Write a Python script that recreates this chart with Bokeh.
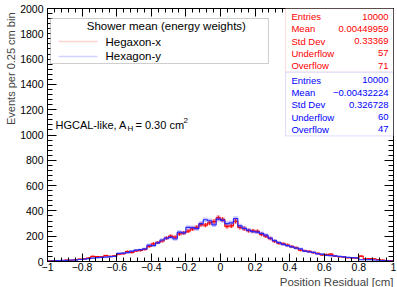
import numpy as np
from bokeh.plotting import figure
from bokeh.models import (Range1d, LinearAxis, FixedTicker, Title, Label,
                          BoxAnnotation, ColumnDataSource)
from bokeh.embed import file_html
from bokeh.resources import INLINE

# ---------------- data ----------------
x_lo, x_hi, n_bins = -1.0, 1.0, 80

hegaxon_x = [6, 8, 5, 4, 12, 10, 14, 18, 20, 27,
             40, 38, 36, 46, 40, 44, 58, 62, 78, 72,
             84, 88, 96, 120, 140, 150, 162, 185, 200, 192,
             218, 226, 240, 258, 270, 292, 288, 305, 316, 345,
             332, 278, 282, 318, 270, 260, 244, 242, 238, 215,
             200, 182, 160, 145, 140, 130, 118, 108, 90, 84,
             80, 70, 64, 52, 55, 58, 42, 38, 36, 30,
             28, 26, 42, 20, 22, 20, 16, 12, 8, 6]

hexagon_y = [4, 6, 8, 10, 9, 12, 11, 16, 18, 22,
             26, 30, 32, 34, 38, 40, 64, 66, 70, 82,
             90, 94, 100, 130, 126, 148, 170, 184, 190, 178,
             232, 226, 270, 268, 260, 300, 330, 322, 290, 335,
             325, 300, 306, 340, 282, 262, 248, 236, 232, 222,
             208, 185, 165, 150, 135, 125, 115, 106, 100, 82,
             76, 72, 60, 58, 48, 46, 44, 40, 36, 32,
             30, 28, 14, 14, 15, 12, 10, 8, 6, 4]

x_ticks = [-1.0, -0.8, -0.6, -0.4, -0.2, 0.0, 0.2, 0.4, 0.6, 0.8, 1.0]
x_tick_labels = ["\u22121", "\u22120.8", "\u22120.6", "\u22120.4", "\u22120.2", "0",
                 "0.2", "0.4", "0.6", "0.8", "1"]
y_ticks = [0, 200, 400, 600, 800, 1000, 1200, 1400, 1600, 1800, 2000]

stats_names = ["Entries", "Mean", "Std Dev", "Underflow", "Overflow"]
stats_x_vals = ["10000", "0.00449959", "0.33369", "57", "71"]
stats_y_vals = ["10000", "\u22120.00432224", "0.326728", "60", "47"]

series_names = ["Hegaxon-x", "Hexagon-y"]
legend_title = "Shower mean (energy weights)"

# ---------------- style ----------------
FONT = "Liberation Sans"
RED = "#ff0000"
BLUE = "#2a2aff"

p = figure(width=397, height=287, x_range=Range1d(x_lo, x_hi), y_range=Range1d(0, 2000),
           output_backend="svg", toolbar_location=None, title=None,
           min_border_left=47, min_border_right=4, min_border_top=8, min_border_bottom=0)
p.xgrid.visible = False
p.ygrid.visible = False
p.outline_line_color = "black"
p.background_fill_color = "white"
p.border_fill_color = "white"

xminor = list(np.round(np.arange(x_lo, x_hi + 1e-9, 0.04), 3))
yminor = list(range(0, 2001, 40))
xtick = FixedTicker(ticks=x_ticks, minor_ticks=xminor)
ytick = FixedTicker(ticks=y_ticks, minor_ticks=yminor)

def style_axis(ax, major_len, minor_len, labels=True):
    ax.major_tick_in = major_len
    ax.major_tick_out = 0
    ax.minor_tick_in = minor_len
    ax.minor_tick_out = 0
    ax.axis_line_color = "black"
    ax.major_tick_line_color = "black"
    ax.minor_tick_line_color = "black"
    ax.major_label_text_font = FONT
    if labels:
        ax.major_label_text_font_size = "10.5px"
        ax.major_label_text_color = "black"
    else:
        ax.major_label_text_font_size = "1px"
        ax.major_label_text_color = None

p.xaxis.ticker = xtick
p.yaxis.ticker = ytick
p.xaxis.major_label_overrides = {t: l for t, l in zip(x_ticks, x_tick_labels)}
style_axis(p.xaxis[0], 8, 4)
style_axis(p.yaxis[0], 9, 5)
p.xaxis.major_label_standoff = 1
p.yaxis.major_label_standoff = 4

top_ax = LinearAxis(ticker=xtick, major_label_standoff=0)
style_axis(top_ax, 8, 4, labels=False)
p.add_layout(top_ax, "above")
right_ax = LinearAxis(ticker=ytick, major_label_standoff=0)
style_axis(right_ax, 9, 5, labels=False)
p.add_layout(right_ax, "right")

p.add_layout(Title(text="Position Residual [cm]", align="right", text_font=FONT,
                   text_font_size="11.5px", text_font_style="normal", standoff=0, offset=0), "below")
p.add_layout(Title(text="Events per 0.25 cm bin", align="right", text_font=FONT,
                   text_font_size="11px", text_font_style="normal", standoff=2, offset=4), "left")

# ---------------- histograms ----------------
edges = np.linspace(x_lo, x_hi, n_bins + 1)
centers = 0.5 * (edges[:-1] + edges[1:])

def hist(vals, color, bars):
    v = np.asarray(vals, dtype=float)
    e = np.sqrt(v)
    src = ColumnDataSource(dict(left=edges[:-1], right=edges[1:], bottom=v - e, top=v + e,
                                x=centers, y=v))
    p.quad(left="left", right="right", bottom="bottom", top="top", source=src,
           fill_color=color, fill_alpha=0.28, line_color=None)
    r = p.step(x=np.append(edges[:-1], edges[-1]), y=np.append(v, v[-1]), mode="after",
               line_color=color, line_width=1.2)
    if bars:
        p.segment(x0="x", y0="bottom", x1="x", y1="top", source=src, line_color=color, line_width=1)
    return r

r_red = hist(hegaxon_x, RED, True)
r_blue = hist(hexagon_y, BLUE, False)

# ---------------- legend (ROOT TLegend style, centred header) ----------------
leg_l, leg_r, leg_t, leg_b = -0.983, 0.277, 1921, 1565
p.add_layout(BoxAnnotation(left=leg_l, right=leg_r, top=leg_t, bottom=leg_b,
                           fill_color="white", fill_alpha=1, line_color="#555555", line_width=1))
p.add_layout(Label(x=0.5 * (leg_l + leg_r) + 0.04, y=1858, text=legend_title, text_font=FONT,
                   text_font_size="11.5px", text_align="center", text_baseline="middle",
                   text_color="black"))
for name, yy, col in zip(series_names, [1739, 1621], ["#ff6a6a", "#6a6aff"]):
    p.add_layout(BoxAnnotation(left=-0.936, right=-0.711, top=yy, bottom=yy,
                               fill_alpha=0, line_color=col, line_width=1.6))
    p.add_layout(Label(x=-0.665, y=yy, text=name, text_font=FONT, text_font_size="11.5px",
                       text_align="left", text_baseline="middle", text_color="black"))

# ---------------- text ----------------
txt_x, txt_y = -0.954, 1082
p.add_layout(Label(x=txt_x, y=txt_y, text="HGCAL-like, A", text_font=FONT, text_font_size="11px",
                   text_baseline="middle", text_color="black"))
p.add_layout(Label(x=txt_x, y=txt_y, x_offset=72, y_offset=-4, text="H", text_font=FONT,
                   text_font_size="8px", text_baseline="middle", text_color="black"))
p.add_layout(Label(x=txt_x, y=txt_y, x_offset=80, text="= 0.30 cm", text_font=FONT,
                   text_font_size="11px", text_baseline="middle", text_color="black"))
p.add_layout(Label(x=txt_x, y=txt_y, x_offset=128, y_offset=4, text="2", text_font=FONT,
                   text_font_size="8px", text_baseline="middle", text_color="black"))

# ---------------- stats boxes ----------------
box_l, box_r = 0.376, 1.0
row_h = 96.7
p.add_layout(BoxAnnotation(left=box_l, right=box_r, top=2000, bottom=2000 - 5 * row_h - 20,
                           fill_color="white", fill_alpha=1, line_color="#ff8c8c", line_width=1))
p.add_layout(BoxAnnotation(left=box_l, right=box_r, top=2000 - 5 * row_h - 20,
                           bottom=2000 - 10 * row_h - 40,
                           fill_color="white", fill_alpha=1, line_color="#8c8cff", line_width=1))
for k, (name, vx, vy) in enumerate(zip(stats_names, stats_x_vals, stats_y_vals)):
    for j, (val, col) in enumerate([(vx, "#ff0000"), (vy, "#0000ff")]):
        yy = 1935 - k * row_h - j * (5 * row_h + 20)
        p.add_layout(Label(x=0.41, y=yy, text=name, text_font=FONT, text_font_size="9.5px",
                           text_baseline="middle", text_align="left", text_color=col))
        p.add_layout(Label(x=0.972, y=yy, text=val, text_font=FONT, text_font_size="9.5px",
                           text_baseline="middle", text_align="right", text_color=col))

open("out.html", "w").write(file_html(p, INLINE))
